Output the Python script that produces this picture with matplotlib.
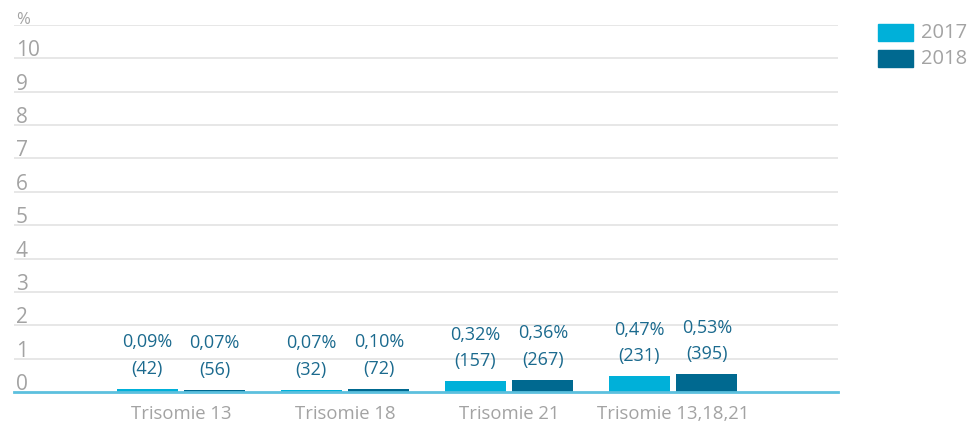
import numpy as np
import matplotlib.pyplot as plt
import matplotlib.transforms as mtransforms
from matplotlib.patches import Rectangle

# Data
categories = ['Trisomie 13', 'Trisomie 18', 'Trisomie 21', 'Trisomie 13,18,21']
years = ['2017', '2018']
pct_2017 = [0.09, 0.07, 0.32, 0.47]
pct_2018 = [0.07, 0.10, 0.36, 0.53]
n_2017 = [42, 32, 157, 231]
n_2018 = [56, 72, 267, 395]
y_ticks = list(range(0, 11))

c2017 = '#00b0d9'
c2018 = '#006990'
label_col = '#1b6a8e'
grey = '#a3a3a3'

plt.rcParams['font.family'] = ['Open Sans', 'DejaVu Sans']

fig = plt.figure(figsize=(9.74, 4.23), dpi=100)
ax = fig.add_axes([14 / 974, 31 / 423, 824 / 974, 367 / 423])

x = np.arange(len(categories))
w = 0.37
off = 0.206
ax.bar(x - off, pct_2017, w, color=c2017, zorder=3)
ax.bar(x + off, pct_2018, w, color=c2018, zorder=3)

# value labels above bars
lab_off = mtransforms.offset_copy(ax.transData, fig=fig, x=0, y=11, units='dots')
for xs, pcts, ns in [(x - off, pct_2017, n_2017), (x + off, pct_2018, n_2018)]:
    for xi, p, n in zip(xs, pcts, ns):
        ax.text(xi, p, f'{p:.2f}%'.replace('.', ',') + f'\n({n})', transform=lab_off,
                ha='center', va='bottom', color=label_col, fontsize=13, linespacing=1.62)

ax.set_xlim(-1.018, 4.006)
ax.set_ylim(0, 11)

# grid lines
for v in y_ticks[1:] + [11]:
    ax.axhline(v, color='#e3e3e3', lw=1.2, zorder=1)
ax.axhline(0, color='#5cc0de', lw=2, zorder=4, clip_on=False)

# y labels sitting just above the grid lines
ylab = mtransforms.blended_transform_factory(ax.transAxes, ax.transData)
ylab = ylab + mtransforms.ScaledTranslation(0, -3 / 100, fig.dpi_scale_trans)
for v in y_ticks:
    ax.text(0.002, v, str(v), transform=ylab, ha='left', va='bottom',
            color=grey, fontsize=15)
ax.text(0.002, 11, '%', transform=ylab, ha='left', va='bottom', color=grey, fontsize=12)

ax.set_xticks(x)
ax.set_xticklabels(categories, color=grey, fontsize=13.3)
ax.tick_params(axis='x', length=0, pad=9)
ax.set_yticks([])
for s in ax.spines.values():
    s.set_visible(False)

# legend
for i, (yr, c) in enumerate(zip(years, [c2017, c2018])):
    top = 24 + i * 26
    fig.patches.append(Rectangle((878 / 974, 1 - (top + 17) / 423), 35 / 974, 17 / 423,
                                 transform=fig.transFigure, color=c))
    fig.text(921 / 974, 1 - (top + 8.5) / 423, yr, ha='left', va='center',
             color=grey, fontsize=14.5)

fig.savefig('out.png', dpi=100)
